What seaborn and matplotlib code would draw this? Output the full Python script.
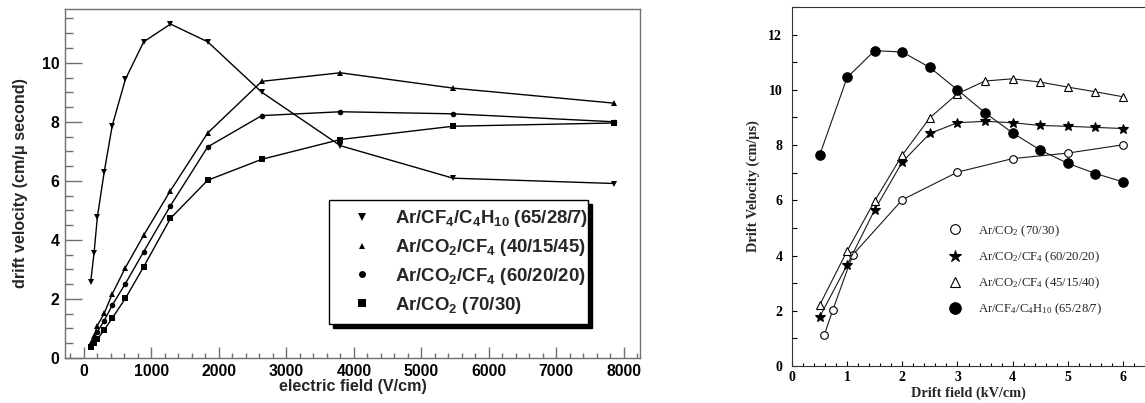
import matplotlib
matplotlib.use("Agg")
import matplotlib.pyplot as plt
from matplotlib.lines import Line2D
from matplotlib.ticker import MultipleLocator
import numpy as np
import pandas as pd
import seaborn as sns

# ---------------- data: left panel (electric field in V/cm) ----------------
field_vcm = [100, 150, 200, 300, 420, 615, 886, 1283, 1834, 2636, 3800, 5470, 7860]
v_cf4_c4h10_65 = [2.56, 3.55, 4.78, 6.29, 7.87, 9.44, 10.71, 11.31, 10.71, 9.00, 7.19, 6.09, 5.91]
v_co2_cf4_40 = [0.50, 0.75, 1.10, 1.51, 2.17, 3.06, 4.16, 5.67, 7.62, 9.37, 9.66, 9.14, 8.63]
v_co2_cf4_60 = [0.45, 0.65, 0.89, 1.26, 1.79, 2.52, 3.60, 5.16, 7.15, 8.21, 8.34, 8.27, 8.00]
v_co2_70 = [0.36, 0.50, 0.63, 0.95, 1.35, 2.02, 3.09, 4.73, 6.02, 6.73, 7.40, 7.85, 7.96]

left_labels = [
    r"Ar/CF$_4$/C$_4$H$_{10}$ (65/28/7)",
    r"Ar/CO$_2$/CF$_4$ (40/15/45)",
    r"Ar/CO$_2$/CF$_4$ (60/20/20)",
    r"Ar/CO$_2$ (70/30)",
]

# ---------------- data: right panel (drift field in kV/cm) ----------------
field_kv = [0.5, 1.0, 1.5, 2.0, 2.5, 3.0, 3.5, 4.0, 4.5, 5.0, 5.5, 6.0]
field_kv_co2 = [0.585, 0.74, 1.10, 2.0, 3.0, 4.0, 5.0, 6.0]
r_co2_70 = [1.12, 2.03, 4.02, 6.02, 7.02, 7.51, 7.71, 8.01]
r_co2_cf4_60 = [1.77, 3.66, 5.66, 7.39, 8.42, 8.81, 8.86, 8.81, 8.71, 8.68, 8.64, 8.60]
r_co2_cf4_45 = [2.20, 4.17, 5.98, 7.64, 8.99, 9.86, 10.32, 10.40, 10.28, 10.10, 9.93, 9.75]
r_cf4_c4h10_65 = [7.63, 10.45, 11.42, 11.37, 10.81, 10.00, 9.17, 8.44, 7.82, 7.34, 6.97, 6.67]

right_labels = [
    r"Ar/CO$_2$ (70/30)",
    r"Ar/CO$_2$/CF$_4$ (60/20/20)",
    r"Ar/CO$_2$/CF$_4$ (45/15/40)",
    r"Ar/CF$_4$/C$_4$H$_{10}$ (65/28/7)",
]

sns.set_theme(style="white")
plt.rcParams["mathtext.default"] = "regular"
plt.rcParams["font.family"] = ["Liberation Sans", "DejaVu Sans"]

fig = plt.figure(figsize=(11.45, 4.03), dpi=100)

# ======================= left panel =======================
axL = fig.add_axes([65 / 1145, 1 - 358 / 403, 575 / 1145, 349 / 403])
left_series = [
    (v_cf4_c4h10_65, "v", 4.5),
    (v_co2_cf4_40, "^", 4.0),
    (v_co2_cf4_60, "o", 4.0),
    (v_co2_70, "s", 4.2),
]
for (vals, mk, ms), lab in zip(left_series, left_labels):
    df = pd.DataFrame({"field": field_vcm, "v": vals})
    sns.lineplot(data=df, x="field", y="v", ax=axL, sort=False, estimator=None,
                 color="black", linewidth=1.0, marker=mk, markersize=ms,
                 markeredgewidth=0, markerfacecolor="black")

axL.set_xlim(-280, 8240)
axL.set_ylim(0, 11.82)
axL.xaxis.set_major_locator(MultipleLocator(1000))
axL.xaxis.set_minor_locator(MultipleLocator(200))
axL.yaxis.set_major_locator(MultipleLocator(2))
axL.yaxis.set_minor_locator(MultipleLocator(0.5))
axL.tick_params(axis="both", which="both", direction="in", color="#707070",
                width=1, labelsize=11.3, labelcolor="black")
axL.tick_params(axis="x", which="major", length=8, pad=4)
axL.tick_params(axis="x", which="minor", length=3.8)
axL.tick_params(axis="y", which="major", length=12.5, pad=4)
axL.tick_params(axis="y", which="minor", length=6)
axL.tick_params(bottom=True, left=True, top=False, right=False, which="both")
for lbl in axL.get_xticklabels() + axL.get_yticklabels():
    lbl.set_fontweight("bold")
for sp in axL.spines.values():
    sp.set_color("#707070")
    sp.set_linewidth(1.0)
axL.set_xlabel("electric field (V/cm)", fontsize=11.6, fontweight="bold", labelpad=0)
axL.set_ylabel("drift velocity (cm/\u03bc second)", fontsize=11.6,
               fontweight="bold", labelpad=10)

handlesL = [Line2D([], [], linestyle="none", marker=mk, markersize=ms + 1,
                   color="black", markeredgewidth=0)
            for (_, mk, ms) in left_series]
legL = axL.legend(handlesL, left_labels, loc="lower left",
                  bbox_to_anchor=(0.459, 0.097, 0.451, 0.358), mode="expand",
                  frameon=True, fancybox=False, edgecolor="black",
                  shadow={"color": "black", "alpha": 1.0, "ox": 3, "oy": -3},
                  prop={"family": "Liberation Sans", "weight": "bold", "size": 13.4},
                  handlelength=2.7, handletextpad=0.4, borderpad=0.45,
                  labelspacing=0.42, borderaxespad=0)
legL.get_frame().set_linewidth(1.0)
legL.get_frame().set_facecolor("white")

# ======================= right panel =======================
serif = ["Liberation Serif", "DejaVu Serif"]
axR = fig.add_axes([792 / 1145, 1 - 366 / 403, 353 / 1145, 359 / 403])
right_series = [
    (field_kv_co2, r_co2_70, "o", 5.5, "white"),
    (field_kv, r_co2_cf4_60, "*", 7.5, "black"),
    (field_kv, r_co2_cf4_45, "^", 6.2, "white"),
    (field_kv, r_cf4_c4h10_65, "o", 6.8, "black"),
]
for (xs, vals, mk, ms, fc), lab in zip(right_series, right_labels):
    df = pd.DataFrame({"field": xs, "v": vals})
    sns.lineplot(data=df, x="field", y="v", ax=axR, sort=False, estimator=None,
                 color="#1a1a1a", linewidth=0.8, marker=mk, markersize=ms,
                 markerfacecolor=fc, markeredgecolor="black", markeredgewidth=0.8)

axR.set_xlim(0, 6.4)
axR.set_ylim(0, 13.0)
axR.xaxis.set_major_locator(MultipleLocator(1))
axR.xaxis.set_minor_locator(MultipleLocator(0.2))
axR.yaxis.set_major_locator(MultipleLocator(2))
axR.yaxis.set_minor_locator(MultipleLocator(1))
axR.tick_params(axis="both", which="both", direction="in", color="black",
                width=0.8, labelsize=10, labelcolor="black")
axR.tick_params(axis="x", which="major", length=3.5, pad=3.5)
axR.tick_params(axis="x", which="minor", length=2)
axR.tick_params(axis="y", which="both", length=3.8, pad=7)
axR.tick_params(bottom=True, left=True, top=False, right=False, which="both")
for lbl in axR.get_xticklabels() + axR.get_yticklabels():
    lbl.set_family(serif)
    lbl.set_fontweight("bold")
axR.spines["right"].set_visible(False)
for sp in ("left", "bottom", "top"):
    axR.spines[sp].set_color("#333333")
    axR.spines[sp].set_linewidth(0.8)
axR.set_xlabel("Drift field (kV/cm)", fontsize=10.3, fontweight="bold",
               family=serif, labelpad=2)
axR.set_ylabel("Drift Velocity (cm/\u03bcs)", fontsize=10.3, fontweight="bold",
               family=serif, labelpad=6)

handlesR = [Line2D([], [], linestyle="none", marker=mk, markersize=ms + 1.5,
                   markerfacecolor=fc, markeredgecolor="black", markeredgewidth=0.8)
            for (_, _, mk, ms, fc) in right_series]
legR = axR.legend(handlesR, right_labels, loc="upper left",
                  bbox_to_anchor=(0.444, 0.398), frameon=False,
                  prop={"family": "Liberation Serif", "size": 9.2},
                  handlelength=1.0, handletextpad=1.3, labelspacing=0.85,
                  borderaxespad=0, borderpad=0)

fig.savefig("out.png", dpi=100)
